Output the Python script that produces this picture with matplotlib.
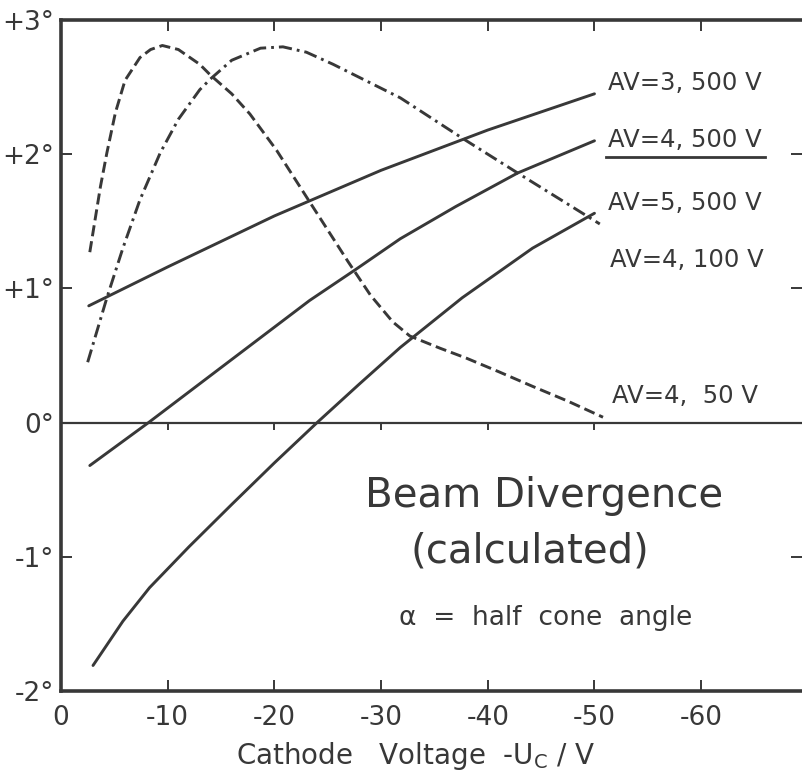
import matplotlib as mpl
mpl.use('Agg')
import matplotlib.pyplot as plt
from matplotlib.lines import Line2D

# values: cathode voltage U_c (V) vs. half cone angle (deg)
u_av3_500 = [-2.6, -10, -20, -30, -40, -50]
a_av3_500 = [0.87, 1.16, 1.54, 1.88, 2.18, 2.45]

u_av4_500 = [-2.7, -8.2, -15, -23.3, -27.6, -31.8, -37, -42.8, -50]
a_av4_500 = [-0.32, 0.0, 0.41, 0.91, 1.14, 1.37, 1.61, 1.86, 2.10]

u_av5_500 = [-3, -5.8, -8.3, -12, -16, -20, -24, -28, -31.8, -37.6, -44.2, -50]
a_av5_500 = [-1.81, -1.48, -1.23, -0.925, -0.61, -0.30, 0.0, 0.29, 0.56, 0.93, 1.30, 1.56]

u_av4_100 = [-2.5, -4.3, -5.8, -7.4, -9.3, -11, -13, -14, -16, -18.7, -20.8,
             -23, -25.5, -31.8, -37.6, -42.8, -50.5]
a_av4_100 = [0.45, 0.93, 1.30, 1.66, 2.01, 2.26, 2.48, 2.56, 2.70, 2.79, 2.80,
             2.76, 2.67, 2.42, 2.12, 1.86, 1.48]

u_av4_50 = [-2.7, -3.7, -4.3, -5.1, -6.0, -7.4, -8.4, -9.5, -11, -13, -14, -16, -17.7,
            -20.2, -23.1, -26.9, -29, -31.1, -32.7, -35.5, -38, -41, -44.2, -47.5, -50.8]
a_av4_50 = [1.27, 1.76, 2.01, 2.31, 2.55, 2.72, 2.78, 2.81, 2.78, 2.67, 2.59, 2.45, 2.30,
            2.03, 1.67, 1.20, 0.95, 0.75, 0.645, 0.555, 0.48, 0.38, 0.27, 0.16, 0.04]

xticks = [0, -10, -20, -30, -40, -50, -60]
xticklabels = ["0", "-10", "-20", "-30", "-40", "-50", "-60"]
yticks = [-2, -1, 0, 1, 2, 3]
yticklabels = ["-2°", "-1°", "0°", "+1°", "+2°", "+3°"]
zero_ticks = [-10, -20, -30, -40, -50]

ink = '#383838'
plt.rcParams['font.family'] = 'DejaVu Sans'
plt.rcParams['lines.scale_dashes'] = False

fig = plt.figure(figsize=(8.02, 7.73), dpi=100)
ax = fig.add_axes([61/802, 82/773, 741/802, 671/773])

lw = 2.1
ax.plot(u_av3_500, a_av3_500, color=ink, lw=lw, solid_capstyle='round')
ax.plot(u_av4_500, a_av4_500, color=ink, lw=lw, solid_capstyle='round')
ax.plot(u_av5_500, a_av5_500, color=ink, lw=lw, solid_capstyle='round')
ax.plot(u_av4_100, a_av4_100, color=ink, lw=lw, linestyle=(0, (9.5, 3.6, 2, 3.6)))
ax.plot(u_av4_50, a_av4_50, color=ink, lw=lw, linestyle=(0, (8, 3.6)))

# zero line with its own small tick marks
ax.axhline(0, color=ink, lw=1.6)
ax.vlines(zero_ticks, -0.055, 0, color=ink, lw=1.4)

ax.set_xlim(0, -69.45)
ax.set_ylim(-2, 3)
ax.set_xticks(xticks)
ax.set_xticklabels(xticklabels)
ax.set_yticks(yticks)
ax.set_yticklabels(yticklabels)
ax.tick_params(axis='both', direction='in', color=ink, width=1.4, labelcolor=ink,
               labelsize=19)
ax.tick_params(axis='x', top=True, length=8, pad=10)
ax.tick_params(axis='y', right=True, length=8, pad=5)

for s in ['left', 'top', 'bottom']:
    ax.spines[s].set_linewidth(2.6)
    ax.spines[s].set_color(ink)
ax.spines['right'].set_visible(False)

ax.set_xlabel("Cathode   Voltage  -U$_\\mathregular{C}$ / V", fontsize=20, color=ink)
ax.xaxis.set_label_coords((416 - 61) / 741, (691 - 756) / 671)
ax.xaxis.label.set_va('center')

# curve labels
lab_kw = dict(fontsize=17.5, color=ink, ha='left', va='baseline')
ax.text(-51.3, 2.48, "AV=3, 500 V", **lab_kw)
t_und = ax.text(-51.3, 2.05, "AV=4, 500 V", **lab_kw)
ax.text(-51.3, 1.585, "AV=5, 500 V", **lab_kw)
ax.text(-51.45, 1.16, "AV=4, 100 V", **lab_kw)
ax.text(-51.6, 0.146, "AV=4,  50 V", **lab_kw)

ax.text(-45.3, -0.63, "Beam Divergence", fontsize=29, color=ink,
        ha='center', va='baseline')
ax.text(-43.95, -1.046, "(calculated)", fontsize=29, color=ink,
        ha='center', va='baseline')
ax.text(-45.45, -1.508, "α  =  half  cone  angle", fontsize=19, color=ink,
        ha='center', va='baseline')

# underline below the AV=4, 500 V label
fig.canvas.draw()
bb = t_und.get_window_extent().transformed(fig.transFigure.inverted())
yl = 1 - 157 / 773
fig.add_artist(Line2D([bb.x0 - 0.003, bb.x1 + 0.004], [yl, yl], color=ink, lw=2.0))

fig.savefig('out.png', dpi=100)
